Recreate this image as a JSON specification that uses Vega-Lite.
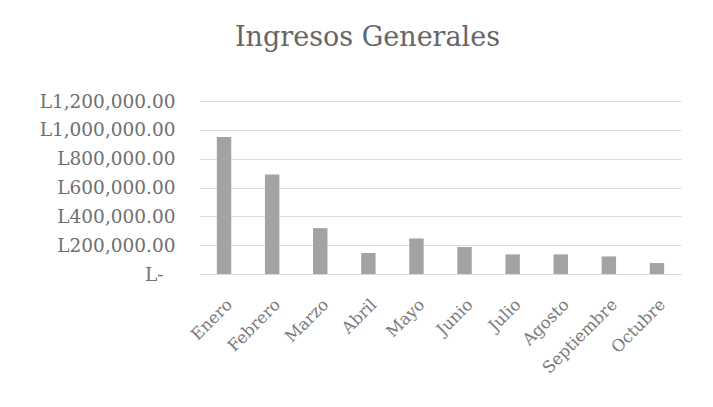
{
  "$schema": "https://vega.github.io/schema/vega-lite/v6.json",
  "autosize": {"type": "none"},
  "width": 481,
  "height": 173,
  "padding": {"left": 200, "top": 101, "right": 32, "bottom": 133},
  "background": "white",
  "title": {
    "text": "Ingresos Generales",
    "font": "DejaVu Serif",
    "fontSize": 27,
    "fontWeight": "normal",
    "color": "#666666",
    "anchor": "middle",
    "dx": -73,
    "offset": 40
  },
  "data": {
    "values": [
      {"mes": "Enero", "ingresos": 951000},
      {"mes": "Febrero", "ingresos": 691000},
      {"mes": "Marzo", "ingresos": 318000},
      {"mes": "Abril", "ingresos": 145000},
      {"mes": "Mayo", "ingresos": 247000},
      {"mes": "Junio", "ingresos": 187000},
      {"mes": "Julio", "ingresos": 136000},
      {"mes": "Agosto", "ingresos": 136000},
      {"mes": "Septiembre", "ingresos": 122000},
      {"mes": "Octubre", "ingresos": 76000}
    ]
  },
  "mark": {"type": "bar", "color": "#a3a3a3"},
  "encoding": {
    "x": {
      "field": "mes",
      "type": "nominal",
      "sort": null,
      "title": null,
      "scale": {"paddingInner": 0.7, "paddingOuter": 0.35},
      "axis": {
        "labelAngle": -45,
        "labelFont": "DejaVu Serif",
        "labelFontSize": 16.5,
        "labelColor": "#7a7a7a",
        "labelPadding": 22,
        "ticks": false,
        "domainColor": "#d9d9d9",
        "grid": false
      }
    },
    "y": {
      "field": "ingresos",
      "type": "quantitative",
      "title": null,
      "scale": {"domain": [0, 1200000]},
      "axis": {
        "values": [0, 200000, 400000, 600000, 800000, 1000000, 1200000],
        "labelExpr": "datum.value == 0 ? 'L-' : 'L' + format(datum.value, ',.2f')",
        "labelFont": "DejaVu Serif",
        "labelFontSize": 18.5,
        "labelColor": "#707070",
        "labelPadding": {"condition": {"test": "datum.value == 0", "value": 37}, "value": 25},
        "ticks": false,
        "domain": false,
        "gridColor": "#dcdcdc"
      }
    }
  },
  "config": {"view": {"stroke": null}}
}
